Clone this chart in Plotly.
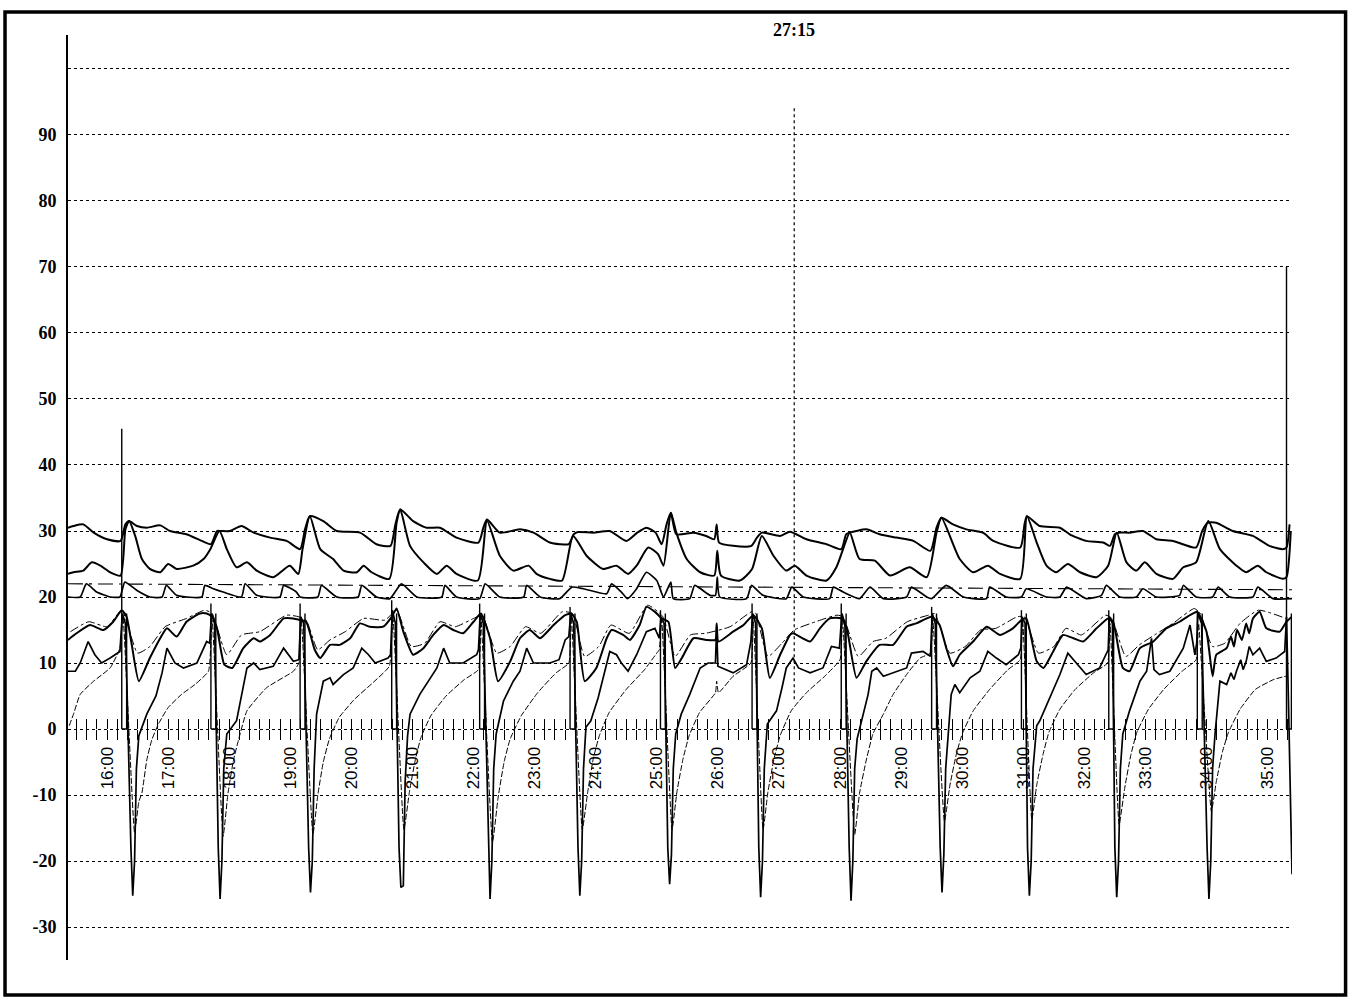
import plotly.graph_objects as go

# ---- recorded pressure channels (time in minutes, value in axis units) ----
trace_a = [(15.36, 30.5), (15.45, 30.75), (15.61, 31.0), (15.78, 29.75), (16.0, 28.75), (16.22, 28.5), (16.30, 31.0),
           (16.36, 31.5), (16.49, 30.75), (16.65, 30.5), (16.87, 30.85), (17.03, 30.0), (17.30, 29.5), (17.55, 28.5),
           (17.70, 28.0), (17.80, 30.0), (17.86, 30.0), (18.01, 30.0), (18.20, 30.75), (18.40, 29.75), (18.67, 29.0),
           (18.94, 28.5), (19.16, 27.25), (19.24, 30.25), (19.32, 32.25), (19.54, 31.5), (19.76, 30.0), (20.14, 29.75),
           (20.41, 28.0), (20.64, 27.75), (20.72, 31.0), (20.80, 33.25), (21.01, 31.5), (21.23, 30.5), (21.45, 30.5),
           (21.72, 29.0), (22.08, 28.25), (22.16, 30.5), (22.22, 31.75), (22.43, 29.75), (22.76, 30.25), (22.98, 29.75),
           (23.25, 28.25), (23.41, 28.0), (23.56, 28.0), (23.64, 29.5), (23.71, 29.85), (23.96, 29.75), (24.23, 30.0),
           (24.50, 28.5), (24.68, 29.75), (24.83, 30.5), (24.98, 29.75), (25.08, 28.0), (25.16, 31.0), (25.23, 32.75),
           (25.32, 29.5), (25.60, 29.75), (25.81, 29.25), (25.94, 28.75), (25.98, 31.0), (26.02, 28.25), (26.25, 27.75),
           (26.55, 27.75), (26.64, 29.0), (26.72, 29.75), (27.02, 29.25), (27.18, 29.9), (27.45, 28.75), (27.78, 28.0),
           (28.02, 27.25), (28.10, 29.5), (28.16, 29.75), (28.43, 30.25), (28.65, 29.5), (28.92, 29.0), (29.20, 28.5),
           (29.48, 27.0), (29.58, 30.5), (29.66, 32.0), (29.85, 31.0), (30.07, 30.25), (30.34, 29.75), (30.51, 28.5),
           (30.95, 27.5), (31.02, 31.0), (31.06, 32.25), (31.27, 30.75), (31.60, 30.5), (31.76, 29.5), (32.03, 28.5),
           (32.31, 28.25), (32.42, 27.75), (32.50, 29.5), (32.56, 29.75), (32.74, 29.75), (32.96, 30.0), (33.18, 28.75),
           (33.45, 28.5), (33.83, 27.5), (33.93, 30.0), (34.02, 31.25), (34.16, 31.25), (34.43, 30.0), (34.76, 29.25),
           (35.03, 27.75), (35.25, 27.25), (35.31, 27.5), (35.36, 31.0)]

trace_b = [(15.36, 23.5), (15.45, 23.75), (15.61, 24.0), (15.75, 25.25), (15.89, 24.75), (16.05, 23.75), (16.22, 23.25),
           (16.30, 30.25), (16.36, 31.5), (16.46, 29.25), (16.57, 25.75), (16.70, 24.25), (16.87, 23.75), (17.0, 25.0),
           (17.14, 24.25), (17.41, 24.75), (17.58, 25.75), (17.69, 27.25), (17.84, 30.0), (17.96, 27.25), (18.12, 24.5),
           (18.29, 25.25), (18.45, 24.0), (18.72, 23.0), (18.99, 24.75), (19.13, 23.5), (19.20, 27.25), (19.32, 32.25),
           (19.49, 27.25), (19.70, 25.75), (19.87, 24.0), (20.09, 23.75), (20.20, 24.75), (20.33, 23.75), (20.62, 22.75),
           (20.74, 31.25), (20.80, 33.25), (20.96, 27.75), (21.18, 25.25), (21.40, 23.5), (21.56, 24.75), (21.72, 23.5),
           (22.07, 22.5), (22.22, 31.5), (22.43, 26.25), (22.65, 24.0), (22.90, 24.75), (23.03, 23.5), (23.25, 22.75),
           (23.45, 22.5), (23.63, 29.25), (23.85, 26.25), (24.12, 24.25), (24.34, 24.75), (24.53, 23.5), (24.67, 24.75),
           (24.86, 27.5), (25.02, 26.5), (25.11, 24.75), (25.23, 32.75), (25.32, 29.75), (25.49, 25.75), (25.71, 23.75),
           (25.94, 23.25), (25.99, 27.0), (26.05, 23.25), (26.36, 22.5), (26.56, 24.25), (26.72, 29.25), (26.91, 26.25),
           (27.12, 24.0), (27.26, 24.75), (27.45, 23.25), (27.78, 22.5), (27.94, 24.5), (28.05, 27.25), (28.16, 29.75),
           (28.32, 25.75), (28.57, 25.5), (28.82, 23.25), (29.14, 24.5), (29.42, 23.0), (29.58, 29.75), (29.66, 32.0),
           (29.96, 25.75), (30.18, 23.75), (30.42, 24.75), (30.62, 23.5), (30.95, 22.75), (31.06, 32.25), (31.22, 28.25),
           (31.38, 24.75), (31.54, 23.75), (31.73, 25.0), (31.93, 23.75), (32.20, 23.0), (32.39, 24.75), (32.53, 29.75),
           (32.69, 25.25), (32.85, 24.0), (32.99, 25.25), (33.18, 23.5), (33.45, 22.75), (33.62, 24.5), (33.83, 25.25),
           (34.03, 31.5), (34.22, 27.25), (34.49, 24.75), (34.65, 23.75), (34.84, 24.75), (34.98, 23.75), (35.25, 22.75),
           (35.31, 23.0), (35.38, 30.0)]

trace_c = [(15.36, 22.0), (35.40, 21.1)]

trace_d = [(15.36, 20.0), (15.56, 20.0), (15.66, 22.0), (15.83, 20.75), (16.05, 20.0), (16.21, 20.0), (16.29, 22.25),
           (16.49, 21.0), (16.70, 20.0), (16.90, 20.0), (16.97, 21.75), (17.14, 20.25), (17.55, 20.0), (17.60, 21.75),
           (17.74, 21.25), (17.90, 20.75), (18.20, 20.0), (18.26, 22.0), (18.45, 20.25), (18.83, 20.0), (18.89, 21.75),
           (19.10, 20.75), (19.16, 20.0), (19.45, 20.0), (19.51, 21.75), (19.76, 20.0), (20.11, 20.0), (20.17, 21.75),
           (20.41, 20.0), (20.63, 19.75), (20.82, 22.0), (21.07, 20.0), (21.48, 20.0), (21.53, 21.75), (21.72, 20.0),
           (22.10, 19.75), (22.19, 22.0), (22.43, 20.0), (22.82, 20.0), (22.87, 21.75), (23.09, 20.0), (23.41, 19.75),
           (23.61, 21.5), (23.80, 21.25), (24.18, 20.5), (24.26, 22.0), (24.42, 20.75), (24.52, 19.75), (24.67, 21.25),
           (24.83, 23.75), (25.0, 22.5), (25.11, 20.0), (25.23, 22.25), (25.27, 19.75), (25.54, 19.75), (25.62, 21.75),
           (25.87, 20.25), (25.96, 20.25), (25.99, 23.0), (26.03, 20.0), (26.47, 19.75), (26.55, 21.75), (26.74, 20.25),
           (27.12, 19.75), (27.21, 21.5), (27.40, 20.0), (27.83, 19.75), (27.89, 21.5), (28.05, 20.75), (28.32, 19.75),
           (28.49, 21.5), (28.71, 19.75), (29.09, 20.0), (29.17, 21.5), (29.42, 20.0), (29.50, 19.75), (29.74, 21.75),
           (30.02, 20.0), (30.40, 19.75), (30.45, 21.5), (30.72, 20.0), (30.97, 20.0), (31.05, 21.25), (31.38, 20.0),
           (31.60, 20.0), (31.71, 21.5), (32.03, 19.75), (32.28, 20.25), (32.36, 21.75), (32.58, 20.0), (32.85, 20.0),
           (32.96, 21.25), (33.18, 20.0), (33.56, 20.25), (33.62, 21.75), (33.83, 20.0), (34.10, 20.0), (34.19, 21.5),
           (34.38, 20.0), (34.76, 20.0), (34.84, 21.5), (35.09, 19.75), (35.40, 19.75)]

trace_e = [(15.36, 13.5), (15.50, 14.5), (15.72, 15.75), (15.94, 15.0), (16.10, 16.25), (16.24, 18.0), (16.32, 17.0),
           (16.40, 13.0), (16.52, 7.25), (16.70, 10.75), (16.87, 13.75), (16.98, 15.25), (17.14, 14.0), (17.30, 16.25),
           (17.52, 17.5), (17.63, 17.5), (17.72, 17.0), (17.80, 15.25), (17.92, 9.75), (18.05, 9.25), (18.23, 12.25),
           (18.40, 13.75), (18.50, 13.25), (18.67, 14.25), (18.89, 16.75), (19.05, 16.75), (19.16, 16.5), (19.26, 16.25),
           (19.40, 12.0), (19.49, 10.75), (19.65, 12.75), (19.81, 12.75), (19.98, 13.75), (20.14, 16.0), (20.30, 15.5),
           (20.52, 15.5), (20.66, 17.0), (20.74, 18.25), (20.85, 14.75), (21.01, 11.25), (21.18, 12.25), (21.34, 14.25),
           (21.51, 15.75), (21.67, 15.0), (21.83, 14.5), (22.0, 16.25), (22.12, 17.5), (22.27, 13.75), (22.40, 7.25),
           (22.60, 10.25), (22.76, 13.75), (22.92, 15.0), (23.09, 13.75), (23.31, 15.75), (23.50, 17.25), (23.60, 17.5),
           (23.69, 16.25), (23.82, 7.25), (24.01, 9.25), (24.18, 13.75), (24.26, 15.0), (24.45, 14.25), (24.56, 13.5),
           (24.72, 15.75), (24.83, 18.5), (24.97, 17.75), (25.08, 16.75), (25.19, 16.25), (25.30, 9.25), (25.41, 10.75),
           (25.60, 13.75), (25.81, 13.5), (25.96, 13.5), (25.98, 16.0), (26.01, 13.25), (26.25, 14.75), (26.42, 15.75),
           (26.58, 17.25), (26.72, 15.25), (26.85, 7.75), (27.02, 11.25), (27.18, 14.25), (27.23, 14.5), (27.51, 13.25),
           (27.67, 15.25), (27.83, 16.75), (28.02, 16.75), (28.11, 15.25), (28.27, 7.75), (28.43, 10.25), (28.65, 12.75),
           (28.87, 12.75), (29.09, 15.5), (29.25, 16.0), (29.50, 17.0), (29.63, 15.75), (29.74, 12.25), (29.85, 9.5),
           (29.96, 11.25), (30.18, 13.25), (30.40, 15.5), (30.62, 14.25), (30.83, 15.25), (30.97, 16.5), (31.05, 16.75),
           (31.22, 10.25), (31.33, 9.25), (31.49, 11.75), (31.65, 14.25), (31.82, 13.75), (31.98, 13.25), (32.20, 15.25),
           (32.39, 16.75), (32.47, 16.25), (32.63, 9.25), (32.74, 8.75), (32.91, 12.25), (33.13, 13.25), (33.34, 15.25),
           (33.56, 16.25), (33.73, 17.25), (33.85, 17.75), (34.0, 14.75), (34.10, 8.0), (34.16, 11.25), (34.33, 12.25),
           (34.40, 14.0), (34.45, 12.5), (34.50, 15.0), (34.58, 13.5), (34.65, 16.0), (34.70, 14.5), (34.76, 16.75),
           (34.87, 17.75), (34.98, 15.25), (35.20, 14.75), (35.31, 16.25), (35.40, 17.0)]

trace_e2 = [(15.40, 14.75), (15.70, 16.25), (16.0, 15.5), (16.24, 18.0), (16.50, 11.5), (16.70, 12.5), (16.95, 15.5),
            (17.30, 16.75), (17.60, 18.0), (17.72, 17.5), (17.96, 11.25), (18.20, 14.25), (18.50, 14.75), (18.94, 17.25),
            (19.14, 17.0), (19.26, 16.5), (19.45, 12.0), (19.65, 13.5), (19.90, 14.75), (20.20, 16.75), (20.55, 16.5),
            (20.74, 18.0), (20.98, 12.5), (21.20, 13.0), (21.45, 16.25), (21.70, 15.5), (22.00, 16.75), (22.14, 17.25),
            (22.38, 11.5), (22.60, 12.5), (22.85, 15.5), (23.10, 14.5), (23.45, 17.75), (23.62, 17.5), (23.82, 11.0),
            (24.05, 12.5), (24.25, 15.75), (24.55, 14.5), (24.85, 18.75), (25.10, 17.0), (25.30, 11.0), (25.55, 14.25),
            (25.80, 14.5), (26.20, 15.5), (26.55, 17.75), (26.62, 17.5), (26.82, 11.0), (27.05, 13.0), (27.25, 15.0),
            (27.60, 16.25), (27.95, 17.25), (28.05, 17.0), (28.30, 11.0), (28.54, 13.25), (28.75, 13.75), (29.10, 16.25),
            (29.45, 17.25), (29.55, 17.5), (29.80, 11.5), (30.05, 12.5), (30.30, 15.0), (30.55, 15.25), (30.90, 17.0),
            (31.02, 17.0), (31.25, 11.5), (31.50, 12.5), (31.70, 15.25), (31.95, 14.25), (32.35, 17.25), (32.45, 16.75),
            (32.68, 11.0), (32.90, 12.75), (33.15, 14.25), (33.45, 16.0), (33.80, 18.25), (33.90, 17.5), (34.10, 12.5),
            (34.30, 13.0), (34.55, 16.0), (34.85, 18.0), (35.30, 16.75)]

trace_f = [(15.36, 8.75), (15.48, 8.75), (15.56, 10.0), (15.69, 13.25), (15.80, 11.25), (15.91, 10.0), (16.05, 10.75),
           (16.21, 11.75),
           (16.25, 17.5), (16.30, 16.0), (16.39, -18.0), (16.42, -25.25), (16.45, -20.0), (16.48, -6.0), (16.52, -1.0),
           (16.65, 2.25), (16.80, 5.0), (16.90, 8.5), (16.98, 12.25), (17.11, 10.0), (17.25, 9.25), (17.47, 10.0),
           (17.63, 13.25), (17.68, 13.0),
           (17.71, 17.5), (17.76, 16.0), (17.82, -18.0), (17.85, -25.75), (17.88, -20.0), (17.91, -6.0), (17.96, -0.75),
           (18.12, 1.25), (18.29, 9.25), (18.40, 10.0), (18.50, 9.0), (18.72, 9.5), (18.89, 12.25), (19.05, 10.25),
           (19.14, 10.5),
           (19.17, 17.0), (19.22, 16.0), (19.30, -18.0), (19.33, -24.75), (19.36, -20.0), (19.39, -6.0), (19.43, 2.25),
           (19.54, 7.25), (19.65, 7.75), (19.70, 6.75), (19.87, 8.25), (20.03, 9.25), (20.17, 12.25), (20.28, 11.25),
           (20.39, 10.0), (20.60, 10.75), (20.64, 11.25),
           (20.67, 18.0), (20.72, 16.0), (20.78, -18.0), (20.81, -24.0), (20.85, -23.75), (20.88, -8.0), (20.92, -1.0),
           (20.96, 2.25), (21.12, 5.25), (21.29, 7.75), (21.40, 9.25), (21.51, 12.25), (21.61, 10.0), (21.83, 10.0),
           (22.05, 11.25), (22.08, 12.0),
           (22.11, 17.5), (22.16, 16.0), (22.24, -18.0), (22.27, -25.75), (22.30, -20.0), (22.33, -6.0), (22.37, -0.75),
           (22.49, 4.25), (22.65, 7.25), (22.76, 8.75), (22.87, 12.25), (22.98, 10.0), (23.25, 10.0), (23.40, 10.5),
           (23.50, 13.5), (23.56, 14.0),
           (23.59, 17.5), (23.64, 16.0), (23.71, -18.0), (23.74, -25.25), (23.77, -20.0), (23.80, -6.0), (23.84, 0.25),
           (23.92, 1.25), (24.04, 4.75), (24.23, 11.75), (24.34, 11.25), (24.42, 10.0), (24.53, 8.75), (24.67, 11.25),
           (24.83, 14.75), (24.97, 15.25), (25.04, 13.75),
           (25.07, 17.0), (25.12, 16.0), (25.18, -18.0), (25.21, -23.5), (25.24, -19.0), (25.27, -6.0), (25.31, -0.75),
           (25.40, 2.25), (25.54, 5.25), (25.71, 9.25), (25.84, 10.0), (25.96, 10.0), (25.98, 15.5), (26.00, 9.5),
           (26.06, 9.25), (26.25, 8.5), (26.47, 9.75), (26.54, 13.25),
           (26.57, 17.5), (26.62, 16.0), (26.67, -18.0), (26.70, -25.5), (26.73, -20.0), (26.76, -6.0), (26.81, 0.75),
           (26.96, 2.75), (27.05, 6.25), (27.12, 9.25), (27.23, 10.75), (27.32, 9.25), (27.51, 8.5), (27.72, 9.25),
           (27.86, 12.5), (27.99, 12.25),
           (28.03, 17.5), (28.08, 16.0), (28.15, -18.0), (28.18, -26.0), (28.21, -20.0), (28.24, -6.0), (28.28, -1.5),
           (28.35, 1.25), (28.46, 5.25), (28.52, 8.75), (28.60, 9.25), (28.71, 8.0), (28.92, 8.75), (29.09, 9.25),
           (29.17, 11.5), (29.36, 11.75), (29.48, 11.0),
           (29.51, 17.5), (29.56, 16.0), (29.64, -18.0), (29.67, -24.75), (29.70, -19.0), (29.73, -6.0), (29.77, -0.75),
           (29.82, 5.25), (29.88, 6.75), (29.96, 5.5), (30.13, 7.75), (30.29, 8.75), (30.42, 11.75), (30.56, 10.75),
           (30.72, 9.75), (30.92, 11.25), (30.96, 12.25),
           (30.98, 17.0), (31.03, 16.0), (31.07, -18.0), (31.10, -25.25), (31.13, -20.0), (31.16, -6.0), (31.22, 0.5),
           (31.27, 1.25), (31.43, 4.75), (31.60, 8.25), (31.73, 11.5), (31.84, 10.25), (32.03, 8.25), (32.25, 9.25),
           (32.36, 11.25), (32.39, 12.0),
           (32.41, 17.0), (32.46, 16.0), (32.50, -18.0), (32.53, -25.5), (32.56, -20.0), (32.59, -6.0), (32.63, -0.75),
           (32.74, 2.75), (32.91, 7.25), (33.02, 8.75), (33.10, 13.75), (33.14, 9.0), (33.23, 8.25), (33.40, 8.75),
           (33.62, 12.25), (33.73, 15.75), (33.81, 11.25), (33.84, 13.0),
           (33.86, 17.5), (33.92, 16.0), (34.01, -18.0), (34.04, -25.75), (34.07, -20.0), (34.10, -6.0), (34.14, -0.75),
           (34.22, 7.25), (34.33, 6.75), (34.40, 8.5), (34.45, 7.5), (34.49, 8.75), (34.56, 10.5), (34.60, 9.0),
           (34.65, 10.25), (34.70, 12.5), (34.76, 11.25), (34.87, 12.25), (34.98, 10.25), (35.14, 10.75), (35.28, 11.75),
           (35.31, 17.0), (35.34, 5.0), (35.40, -22.0)]

trace_g = [(15.38, 0.5), (15.45, 2.25), (15.56, 5.25), (15.78, 7.25), (16.05, 9.25), (16.21, 12.25),
           (16.26, 17.0), (16.45, -15.75), (16.52, -11.0), (16.57, -9.7), (16.65, -4.7), (16.73, -1.7), (16.84, 0.75),
           (17.0, 3.25), (17.22, 5.25), (17.44, 6.75), (17.66, 8.75),
           (17.72, 16.5), (17.90, -16.25), (17.98, -9.7), (18.07, -4.7), (18.15, -1.7), (18.29, 2.75), (18.61, 6.25),
           (19.05, 8.75), (19.14, 10.0),
           (19.18, 16.5), (19.37, -16.0), (19.45, -10.0), (19.54, -5.0), (19.64, -1.5), (19.80, 1.75), (20.05, 4.5),
           (20.35, 7.0), (20.62, 9.5),
           (20.68, 17.0), (20.86, -15.25), (20.95, -9.5), (21.05, -4.5), (21.14, -1.25), (21.30, 2.0), (21.55, 5.0),
           (21.85, 7.5), (22.08, 9.0),
           (22.12, 17.0), (22.31, -17.25), (22.40, -10.5), (22.50, -5.0), (22.60, -1.5), (22.78, 2.0), (23.05, 5.5),
           (23.35, 8.5), (23.56, 10.0),
           (23.60, 17.0), (23.78, -15.25), (23.87, -9.5), (23.96, -4.5), (24.06, -1.0), (24.22, 2.5), (24.50, 6.0),
           (24.80, 9.0), (25.00, 11.5), (25.04, 12.0),
           (25.08, 16.5), (25.25, -15.25), (25.33, -9.5), (25.43, -4.5), (25.53, -1.0), (25.70, 2.5), (25.96, 5.5),
           (25.98, 7.25), (26.01, 5.5), (26.25, 8.0), (26.54, 10.0),
           (26.58, 16.5), (26.74, -15.25), (26.82, -9.5), (26.92, -4.5), (27.02, -1.0), (27.20, 2.75), (27.45, 5.5),
           (27.75, 8.0), (28.00, 10.5),
           (28.04, 16.5), (28.24, -16.0), (28.32, -9.7), (28.43, -4.7), (28.54, -0.7), (28.71, 2.25), (28.87, 5.25),
           (29.09, 8.25), (29.31, 10.75), (29.48, 11.5),
           (29.52, 16.5), (29.71, -14.0), (29.80, -8.5), (29.90, -4.0), (30.00, -0.75), (30.18, 2.75), (30.45, 6.0),
           (30.75, 9.0), (30.95, 10.5),
           (30.99, 16.5), (31.14, -13.75), (31.22, -8.5), (31.32, -4.0), (31.42, -0.5), (31.60, 3.0), (31.85, 6.0),
           (32.15, 8.5), (32.38, 10.0),
           (32.42, 16.0), (32.57, -14.5), (32.66, -9.0), (32.76, -4.0), (32.86, -0.5), (33.05, 3.0), (33.30, 6.0),
           (33.60, 8.75), (33.83, 10.5),
           (33.87, 16.0), (34.08, -12.5), (34.16, -8.0), (34.26, -3.5), (34.36, -0.5), (34.55, 3.0), (34.80, 6.0),
           (35.10, 7.5), (35.30, 8.0)]

# event marker channel: onset time, pulse end time, pulse height
marker_onset = [16.24, 17.70, 19.16, 20.66, 22.10, 23.58, 25.06, 26.56, 28.02, 29.50, 30.97, 32.40, 33.85, 35.31]
marker_end = [16.32, 17.78, 19.24, 20.74, 22.18, 23.66, 25.14, 26.64, 28.10, 29.58, 31.05, 32.48, 33.93, 35.39]
marker_peak = [45.5, 19.0, 19.0, 19.5, 19.0, 18.5, 18.0, 19.0, 19.0, 18.5, 18.0, 18.0, 18.0, 70.0]

minute_ticks = list(range(16, 36))
minute_labels = [f"{m}:00" for m in minute_ticks]
y_ticks = [-30, -20, -10, 0, 10, 20, 30, 40, 50, 60, 70, 80, 90, 100]
y_labels = ["-30", "-20", "-10", "0", "10", "20", "30", "40", "50", "60", "70", "80", "90", ""]

cursor_time = 27.25
cursor_label = "27:15"

X_RANGE = [15.36, 35.40]
Y_RANGE = [-35.0, 105.15]


def split(pairs):
    return [p[0] for p in pairs], [p[1] for p in pairs]


fig = go.Figure()

# smoothly varying channels are drawn as splines; the plunging channel stays linear
line_specs = [
    (trace_a, dict(color="black", width=2.0, shape="spline", smoothing=0.6)),
    (trace_b, dict(color="black", width=2.0, shape="spline", smoothing=0.6)),
    (trace_d, dict(color="black", width=1.7, shape="spline", smoothing=0.5)),
    (trace_e, dict(color="black", width=2.0, shape="spline", smoothing=0.5)),
    (trace_e2, dict(color="black", width=1.0, dash="dashdot", shape="spline", smoothing=0.5)),
    (trace_f, dict(color="black", width=1.7)),
    (trace_g, dict(color="black", width=1.0, dash="6px,2px", shape="spline", smoothing=0.4)),
]
for pairs, style in line_specs:
    xs, ys = split(pairs)
    fig.add_trace(go.Scatter(x=xs, y=ys, mode="lines", line=style, showlegend=False, hoverinfo="skip"))

# flat reference channel, drawn on the overlay axis so its upward ticks render
xs, ys = split(trace_c)
fig.add_trace(go.Scatter(x=xs, y=ys, mode="lines", xaxis="x2",
                         line=dict(color="black", width=1.1, dash="longdashdot"),
                         showlegend=False, hoverinfo="skip"))

# marker pulses rising from the baseline at each onset
mx, my = [], []
for t0, t1, pk in zip(marker_onset, marker_end, marker_peak):
    mx += [t0, t0, None, t0, t1, t1, None]
    my += [0, pk, None, 0, 0, 17.5, None]
fig.add_trace(go.Scatter(x=mx, y=my, mode="lines", line=dict(color="black", width=1.4),
                         showlegend=False, hoverinfo="skip", connectgaps=False))

zero_pos = (0 - Y_RANGE[0]) / (Y_RANGE[1] - Y_RANGE[0])

axis_font = dict(family="Liberation Sans, Arial, sans-serif", size=17, color="black")
serif_bold = dict(family="Liberation Serif, Times New Roman, serif", size=18, color="black", weight="bold")

fig.update_layout(
    width=1350, height=1002,
    margin=dict(l=68, r=58, t=35, b=42),
    paper_bgcolor="white", plot_bgcolor="white",
    showlegend=False,
    xaxis=dict(
        range=X_RANGE, anchor="free", position=zero_pos, side="bottom",
        showgrid=False, zeroline=False, showline=False,
        tickmode="array", tickvals=minute_ticks, ticktext=minute_labels,
        tickangle=-90, tickfont=axis_font,
        ticks="outside", ticklen=10, tickwidth=1.2, tickcolor="black",
        minor=dict(tickmode="linear", tick0=0, dtick=1 / 6, ticks="outside",
                   ticklen=10, tickwidth=1.2, tickcolor="black", showgrid=False),
    ),
    xaxis2=dict(
        range=X_RANGE, matches="x", overlaying="x", anchor="free", position=zero_pos, side="top",
        showgrid=False, zeroline=False, showline=False, showticklabels=False,
        tickmode="array", tickvals=minute_ticks,
        ticks="outside", ticklen=10, tickwidth=1.2, tickcolor="black",
        minor=dict(tickmode="linear", tick0=0, dtick=1 / 6, ticks="outside",
                   ticklen=10, tickwidth=1.2, tickcolor="black", showgrid=False),
    ),
    yaxis=dict(
        range=Y_RANGE, domain=[0, 1],
        tickmode="array", tickvals=y_ticks, ticktext=y_labels,
        tickfont=serif_bold,
        showgrid=True, gridcolor="black", gridwidth=1.2, griddash="dot",
        zeroline=False, showline=True, linecolor="black", linewidth=1.8,
        ticks="", ticklabelstandoff=6,
    ),
)

# cursor line with its time readout
fig.add_shape(type="line", xref="x", yref="y", x0=cursor_time, x1=cursor_time, y0=4.5, y1=94.5,
              line=dict(color="black", width=1.2, dash="dot"))
fig.add_annotation(x=cursor_time, xref="x", y=1 + 5 / 925, yref="paper", text=cursor_label,
                   showarrow=False, yanchor="middle", font=serif_bold)

# outer frame around the whole recording
fig.add_shape(type="rect", xref="paper", yref="paper",
              x0=(5 - 68) / 1224.4, x1=(1346 - 68) / 1224.4,
              y0=(960 - 995) / 925, y1=(960 - 12) / 925,
              line=dict(color="black", width=3.5), fillcolor="rgba(0,0,0,0)")

fig.write_html("out.html")
